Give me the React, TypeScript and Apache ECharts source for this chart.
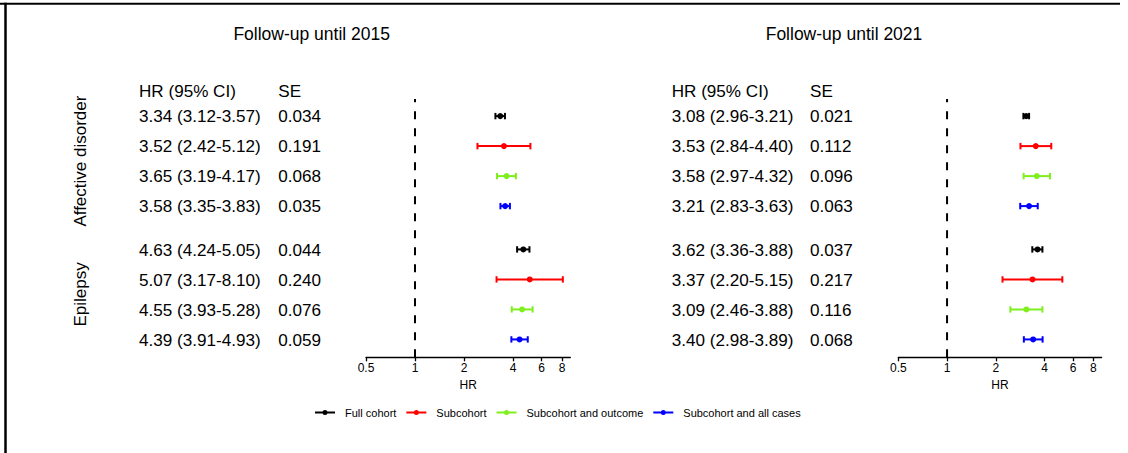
import React, { useEffect, useRef } from "react";
import * as echarts from "echarts";

// ---- data ----
const cohorts = ["Full cohort", "Subcohort", "Subcohort and outcome", "Subcohort and all cases"];
const cohortColors = ["#000000", "#ff0000", "#7fef1f", "#0000ff"];
const outcomes = ["Affective disorder", "Epilepsy"];
const periods = ["Follow-up until 2015", "Follow-up until 2021"];

// rows: outcome-major, cohort-minor
const hr2015 = [3.34, 3.52, 3.65, 3.58, 4.63, 5.07, 4.55, 4.39];
const lo2015 = [3.12, 2.42, 3.19, 3.35, 4.24, 3.17, 3.93, 3.91];
const hi2015 = [3.57, 5.12, 4.17, 3.83, 5.05, 8.1, 5.28, 4.93];
const se2015 = [0.034, 0.191, 0.068, 0.035, 0.044, 0.24, 0.076, 0.059];

const hr2021 = [3.08, 3.53, 3.58, 3.21, 3.62, 3.37, 3.09, 3.4];
const lo2021 = [2.96, 2.84, 2.97, 2.83, 3.36, 2.2, 2.46, 2.98];
const hi2021 = [3.21, 4.4, 4.32, 3.63, 3.88, 5.15, 3.88, 3.89];
const se2021 = [0.021, 0.112, 0.096, 0.063, 0.037, 0.217, 0.116, 0.068];

const hrTicks = [0.5, 1, 2, 4, 6, 8];
const hrAxisMin = 0.5;
const hrAxisMax = 9;
const nullEffect = 1;

// ---- layout ----
const FONT = "'Liberation Sans', Arial, Helvetica, sans-serif";
const W = 1128;
const H = 453;
const gridTop = 99;
const gridHeight = 258.3;
const yMin = 0.43;
const yMax = 9.04;
const groupGap = 0.444;

const panels = [
  { left: 366, width: 204.3, hrX: 139, seX: 278.3, titleX: 311.7, hr: hr2015, lo: lo2015, hi: hi2015, se: se2015 },
  { left: 898.3, width: 203.3, hrX: 671.7, seX: 810, titleX: 844, hr: hr2021, lo: lo2021, hi: hi2021, se: se2021 },
];

const rowPos = (o: number, c: number) => 1 + o * (cohorts.length + groupGap) + c;
const rowY = (pos: number) => gridTop + ((pos - yMin) / (yMax - yMin)) * gridHeight;

const tableText = (text: string, x: number, y: number, extra: any = {}) => ({
  type: "text",
  x,
  y,
  scaleX: 1.07,
  silent: true,
  style: {
    text,
    x: 0,
    y: 0,
    fill: "#000",
    fontSize: 16,
    fontFamily: FONT,
    align: "left",
    verticalAlign: "middle",
  },
  ...extra,
});

function buildOption() {
  const graphics: any[] = [];

  // frame lines
  graphics.push({
    type: "line",
    silent: true,
    shape: { x1: 0, y1: 3.7, x2: 1120, y2: 3.7 },
    style: { stroke: "#000", lineWidth: 2 },
  });
  graphics.push({
    type: "line",
    silent: true,
    shape: { x1: 5.5, y1: 2.7, x2: 5.5, y2: H },
    style: { stroke: "#000", lineWidth: 2.5 },
  });

  panels.forEach((p, pi) => {
    graphics.push({
      type: "text",
      x: p.titleX,
      y: 33.5,
      silent: true,
      style: {
        text: periods[pi],
        fill: "#000",
        fontSize: 17.5,
        fontFamily: FONT,
        align: "center",
        verticalAlign: "middle",
      },
    });
    const headerY = rowY(rowPos(0, 0)) + 1 - 25;
    graphics.push(tableText("HR (95% CI)", p.hrX, headerY));
    graphics.push(tableText("SE", p.seX, headerY));
    outcomes.forEach((_, o) => {
      cohorts.forEach((__, c) => {
        const i = o * cohorts.length + c;
        const y = rowY(rowPos(o, c)) + 1;
        const txt = `${p.hr[i].toFixed(2)} (${p.lo[i].toFixed(2)}-${p.hi[i].toFixed(2)})`;
        graphics.push(tableText(txt, p.hrX, y));
        graphics.push(tableText(p.se[i].toFixed(3), p.seX, y));
      });
    });
  });

  // outcome group labels, rotated
  outcomes.forEach((name, o) => {
    const yTop = rowY(rowPos(o, 0));
    const yBot = rowY(rowPos(o, cohorts.length - 1));
    graphics.push({
      type: "text",
      x: 80.5,
      y: (yTop + yBot) / 2,
      rotation: Math.PI / 2,
      silent: true,
      style: {
        text: name,
        fill: "#000",
        fontSize: 17,
        fontFamily: FONT,
        align: "center",
        verticalAlign: "middle",
      },
    });
  });

  const series: any[] = [];
  panels.forEach((p, pi) => {
    series.push({
      type: "line",
      name: "HR = 1",
      xAxisIndex: pi,
      yAxisIndex: pi,
      data: [
        [Math.log2(nullEffect), yMax],
        [Math.log2(nullEffect), yMin],
      ],
      symbol: "none",
      silent: true,
      z: 1,
      lineStyle: { color: "#000", width: 2, type: [8, 9] },
    });
    cohorts.forEach((name, c) => {
      const data = outcomes.map((_, o) => {
        const i = o * cohorts.length + c;
        return [Math.log2(p.lo[i]), Math.log2(p.hr[i]), Math.log2(p.hi[i]), rowPos(o, c)];
      });
      series.push({
        type: "custom",
        name,
        xAxisIndex: pi,
        yAxisIndex: pi,
        z: 3,
        itemStyle: { color: cohortColors[c] },
        encode: { x: [0, 1, 2], y: 3 },
        data,
        renderItem: (params: any, api: any) => {
          const yv = api.value(3);
          const pLo = api.coord([api.value(0), yv]);
          const pEst = api.coord([api.value(1), yv]);
          const pHi = api.coord([api.value(2), yv]);
          const color = cohortColors[c];
          const cap = 3.2;
          const st = { stroke: color, lineWidth: 2 };
          return {
            type: "group",
            children: [
              { type: "line", shape: { x1: pLo[0], y1: pLo[1], x2: pHi[0], y2: pHi[1] }, style: st },
              { type: "line", shape: { x1: pLo[0], y1: pLo[1] - cap, x2: pLo[0], y2: pLo[1] + cap }, style: st },
              { type: "line", shape: { x1: pHi[0], y1: pHi[1] - cap, x2: pHi[0], y2: pHi[1] + cap }, style: st },
              { type: "circle", shape: { cx: pEst[0], cy: pEst[1], r: 3 }, style: { fill: color } },
            ],
          };
        },
      });
    });
  });

  const tickLogs = hrTicks.map((t) => Math.log2(t));

  return {
    animation: false,
    backgroundColor: "#fff",
    legend: {
      data: cohorts,
      left: 310,
      top: 402,
      itemWidth: 20,
      itemHeight: 5,
      itemGap: 10,
      selectedMode: false,
      icon: "path://M0,2 L20,2 L20,4 L0,4 Z M7.5,3 A2.5,2.5 0 1,1 12.5,3 A2.5,2.5 0 1,1 7.5,3 Z",
      textStyle: { fontSize: 11, color: "#000", fontFamily: FONT, padding: [0, 0, 0, 5] },
    },
    grid: panels.map((p) => ({ left: p.left, top: gridTop, width: p.width, height: gridHeight })),
    xAxis: panels.map((_, pi) => ({
      type: "value",
      gridIndex: pi,
      min: Math.log2(hrAxisMin),
      max: Math.log2(hrAxisMax),
      axisLine: { show: true, onZero: false, lineStyle: { color: "#000", width: 1.3 } },
      axisTick: { show: true, length: 4, customValues: tickLogs, lineStyle: { color: "#000", width: 1.3 } },
      axisLabel: {
        customValues: tickLogs,
        formatter: (v: number) => String(Math.round(Math.pow(2, v) * 10) / 10),
        fontSize: 12,
        color: "#000",
        margin: 5,
        fontFamily: FONT,
      },
      splitLine: { show: false },
      name: "HR",
      nameLocation: "middle",
      nameGap: 14,
      nameTextStyle: { fontSize: 12, color: "#000", fontFamily: FONT },
    })),
    yAxis: panels.map((_, pi) => ({
      type: "value",
      gridIndex: pi,
      inverse: true,
      min: yMin,
      max: yMax,
      show: false,
    })),
    graphic: graphics,
    series,
  };
}

export default function App() {
  const ref = useRef<HTMLDivElement>(null);
  useEffect(() => {
    document.body.style.margin = "0";
    if (!ref.current) return;
    const chart = echarts.init(ref.current, undefined, { renderer: "svg" });
    chart.setOption(buildOption() as any);
    return () => chart.dispose();
  }, []);
  return <div ref={ref} style={{ width: W, height: H }} />;
}
